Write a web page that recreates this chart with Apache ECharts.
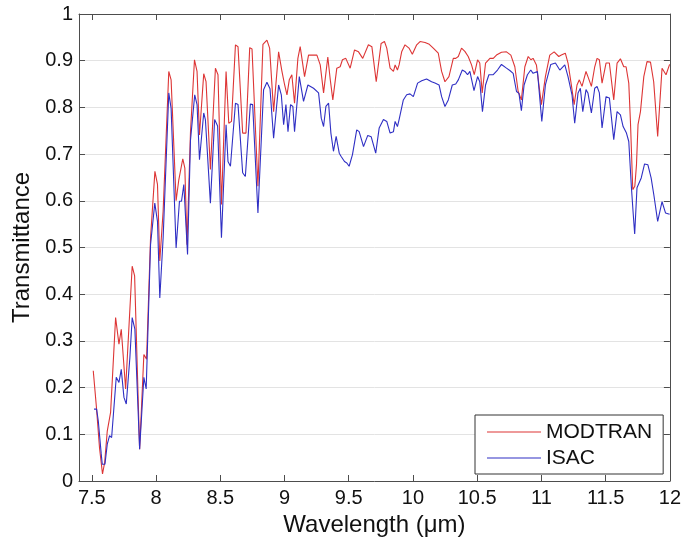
<!DOCTYPE html>
<html>
<head>
<meta charset="utf-8">
<script src="https://cdn.jsdelivr.net/npm/echarts@6/dist/echarts.min.js"></script>
<style>html,body{margin:0;padding:0;background:#fff;}#c{width:684px;height:543px;}</style>
</head>
<body>
<div id="c"></div>
<script>
const xTicks = [7.5, 8, 8.5, 9, 9.5, 10, 10.5, 11, 11.5, 12];
const seriesNames = ['MODTRAN', 'ISAC'];

const modtranX = [7.511,7.535,7.56,7.583,7.6,7.62,7.646,7.685,7.711,7.729,7.763,7.814,7.833,7.872,7.905,7.926,7.957,7.991,8.011,8.029,8.055,8.099,8.117,8.156,8.177,8.208,8.224,8.241,8.268,8.299,8.319,8.338,8.371,8.389,8.423,8.462,8.482,8.509,8.545,8.566,8.587,8.618,8.638,8.674,8.7,8.729,8.747,8.793,8.832,8.863,8.884,8.915,8.954,8.98,9.001,9.019,9.037,9.057,9.078,9.104,9.122,9.135,9.156,9.187,9.252,9.278,9.304,9.337,9.355,9.376,9.407,9.433,9.451,9.477,9.511,9.545,9.576,9.609,9.653,9.68,9.714,9.752,9.778,9.796,9.822,9.848,9.861,9.879,9.892,9.912,9.938,9.969,9.995,10.029,10.055,10.094,10.127,10.158,10.197,10.223,10.249,10.28,10.314,10.333,10.353,10.378,10.404,10.43,10.456,10.477,10.503,10.52,10.539,10.565,10.599,10.625,10.65,10.689,10.728,10.762,10.793,10.819,10.844,10.871,10.897,10.918,10.935,10.961,11.0,11.031,11.065,11.099,11.135,11.155,11.186,11.207,11.232,11.255,11.277,11.295,11.316,11.347,11.362,11.389,11.415,11.433,11.451,11.472,11.503,11.529,11.563,11.589,11.615,11.641,11.659,11.68,11.693,11.711,11.727,11.74,11.752,11.771,11.797,11.822,11.849,11.874,11.905,11.939,11.97,11.998];
const modtranY = [0.236,0.16,0.07,0.015,0.04,0.107,0.147,0.35,0.293,0.325,0.197,0.46,0.439,0.068,0.271,0.261,0.521,0.663,0.635,0.471,0.578,0.877,0.859,0.6,0.645,0.69,0.67,0.506,0.748,0.902,0.877,0.741,0.872,0.855,0.667,0.884,0.87,0.592,0.877,0.766,0.77,0.934,0.93,0.745,0.745,0.928,0.925,0.631,0.935,0.944,0.927,0.791,0.919,0.877,0.848,0.827,0.859,0.87,0.809,0.905,0.93,0.928,0.866,0.912,0.912,0.891,0.831,0.908,0.862,0.816,0.884,0.887,0.902,0.905,0.884,0.923,0.919,0.905,0.934,0.93,0.855,0.937,0.941,0.927,0.884,0.877,0.891,0.88,0.891,0.919,0.934,0.927,0.914,0.934,0.941,0.939,0.935,0.927,0.916,0.877,0.855,0.866,0.905,0.905,0.909,0.927,0.92,0.909,0.891,0.87,0.902,0.895,0.831,0.895,0.905,0.905,0.912,0.918,0.919,0.912,0.887,0.834,0.816,0.887,0.909,0.902,0.905,0.891,0.806,0.866,0.912,0.919,0.909,0.912,0.916,0.895,0.85,0.806,0.848,0.859,0.845,0.877,0.866,0.845,0.887,0.905,0.902,0.852,0.895,0.895,0.816,0.895,0.904,0.887,0.887,0.852,0.77,0.624,0.631,0.677,0.763,0.791,0.866,0.898,0.897,0.855,0.738,0.884,0.87,0.892];

const isacX = [7.517,7.537,7.55,7.573,7.581,7.602,7.62,7.638,7.654,7.69,7.711,7.729,7.75,7.768,7.796,7.814,7.835,7.872,7.905,7.923,7.957,7.99,8.011,8.029,8.055,8.099,8.117,8.156,8.182,8.198,8.216,8.226,8.245,8.268,8.301,8.319,8.338,8.371,8.384,8.423,8.456,8.479,8.509,8.545,8.56,8.579,8.618,8.638,8.674,8.695,8.734,8.752,8.793,8.837,8.863,8.887,8.915,8.954,8.975,8.993,9.011,9.027,9.047,9.065,9.078,9.115,9.13,9.148,9.182,9.226,9.265,9.286,9.304,9.322,9.343,9.361,9.381,9.402,9.426,9.441,9.467,9.485,9.503,9.529,9.562,9.581,9.615,9.648,9.675,9.71,9.737,9.77,9.796,9.822,9.848,9.861,9.879,9.892,9.925,9.951,9.977,10.003,10.036,10.068,10.106,10.145,10.171,10.203,10.223,10.249,10.275,10.306,10.333,10.353,10.384,10.404,10.425,10.443,10.475,10.503,10.52,10.541,10.565,10.591,10.625,10.658,10.689,10.728,10.754,10.78,10.806,10.825,10.844,10.865,10.891,10.917,10.935,10.969,11.003,11.031,11.073,11.109,11.143,11.182,11.207,11.238,11.259,11.285,11.303,11.322,11.347,11.362,11.389,11.415,11.433,11.451,11.472,11.503,11.529,11.563,11.589,11.615,11.636,11.662,11.68,11.7,11.713,11.726,11.744,11.757,11.777,11.803,11.829,11.854,11.875,11.905,11.939,11.966,11.998];
const isacY = [0.154,0.154,0.129,0.058,0.036,0.036,0.079,0.097,0.093,0.222,0.211,0.239,0.179,0.165,0.264,0.35,0.325,0.068,0.222,0.197,0.506,0.595,0.556,0.392,0.521,0.831,0.798,0.499,0.599,0.599,0.635,0.635,0.485,0.73,0.827,0.806,0.688,0.788,0.774,0.595,0.774,0.76,0.521,0.763,0.684,0.674,0.809,0.806,0.66,0.652,0.807,0.806,0.574,0.838,0.854,0.84,0.734,0.848,0.827,0.763,0.806,0.748,0.806,0.802,0.748,0.866,0.866,0.813,0.848,0.841,0.831,0.777,0.759,0.802,0.809,0.745,0.706,0.738,0.702,0.695,0.684,0.681,0.674,0.699,0.752,0.748,0.716,0.74,0.737,0.702,0.756,0.774,0.77,0.745,0.748,0.77,0.759,0.774,0.816,0.827,0.829,0.823,0.852,0.857,0.861,0.855,0.852,0.848,0.823,0.802,0.816,0.848,0.85,0.859,0.88,0.877,0.87,0.877,0.836,0.866,0.855,0.791,0.848,0.87,0.87,0.88,0.892,0.884,0.879,0.873,0.834,0.83,0.793,0.848,0.87,0.88,0.873,0.877,0.77,0.848,0.892,0.895,0.88,0.891,0.866,0.827,0.766,0.831,0.841,0.791,0.838,0.831,0.788,0.841,0.845,0.831,0.756,0.823,0.82,0.731,0.791,0.784,0.759,0.745,0.727,0.631,0.578,0.529,0.628,0.624,0.649,0.679,0.677,0.649,0.613,0.556,0.598,0.574,0.571];

function zip(xs, ys) { return xs.map((x, i) => [x, ys[i]]); }

const chart = echarts.init(document.getElementById('c'), null, {renderer: 'canvas'});
const FONT = 'Liberation Sans, Arial, sans-serif';
const AX = '#4d4d4d';
const RED = '#dd3535';
const BLUE = '#2f2fc4';
const baseX = {
  type: 'value', min: 7.4, max: 12,
  axisLine: {show: true, onZero: false, lineStyle: {color: AX, width: 1}},
  splitLine: {show: false}
};
const baseY = {
  type: 'value', min: 0, max: 1, interval: 0.1,
  axisLine: {show: true, onZero: false, lineStyle: {color: AX, width: 1}}
};
chart.setOption({
  animation: false,
  backgroundColor: '#fff',
  textStyle: {fontFamily: FONT},
  grid: {left: 79, right: 12, top: 14, bottom: 62, containLabel: false},
  legend: {
    data: [
      {name: seriesNames[0], icon: 'rect', itemStyle: {color: RED}},
      {name: seriesNames[1], icon: 'rect', itemStyle: {color: BLUE}}
    ],
    orient: 'vertical',
    left: 475, top: 415,
    itemWidth: 54, itemHeight: 1.2, itemGap: 4,
    padding: [6, 11, 5, 12],
    backgroundColor: '#fff', borderColor: '#333', borderWidth: 1,
    textStyle: {fontSize: 21, color: '#111', fontFamily: FONT, lineHeight: 22}
  },
  xAxis: [
    Object.assign({}, baseX, {
      position: 'bottom',
      name: 'Wavelength (\u03bcm)', nameLocation: 'middle', nameGap: 30,
      nameTextStyle: {fontSize: 24, color: '#111', fontFamily: FONT},
      axisTick: {show: true, inside: true, length: 6, lineStyle: {color: AX}, customValues: xTicks},
      axisLabel: {show: true, margin: 7, fontSize: 20, color: '#111', fontFamily: FONT, customValues: xTicks}
    }),
    Object.assign({}, baseX, {
      position: 'top',
      axisTick: {show: true, inside: true, length: 6, lineStyle: {color: AX}, customValues: xTicks},
      axisLabel: {show: false}
    })
  ],
  yAxis: [
    Object.assign({}, baseY, {
      position: 'left',
      name: 'Transmittance', nameLocation: 'middle', nameGap: 44,
      nameTextStyle: {fontSize: 24, color: '#111', fontFamily: FONT},
      axisTick: {show: true, inside: true, length: 6, lineStyle: {color: AX}},
      axisLabel: {show: true, margin: 6, fontSize: 20, color: '#111', fontFamily: FONT},
      splitLine: {show: true, lineStyle: {color: '#e3e3e3', width: 1}}
    }),
    Object.assign({}, baseY, {
      position: 'right',
      axisTick: {show: true, inside: true, length: 6, lineStyle: {color: AX}},
      axisLabel: {show: false},
      splitLine: {show: false}
    })
  ],
  series: [
    {
      name: seriesNames[0], type: 'line', xAxisIndex: 0, yAxisIndex: 0,
      data: zip(modtranX, modtranY), symbol: 'none', showSymbol: false,
      lineStyle: {color: RED, width: 1.1}, itemStyle: {color: RED}, z: 3
    },
    {
      name: seriesNames[1], type: 'line', xAxisIndex: 0, yAxisIndex: 0,
      data: zip(isacX, isacY), symbol: 'none', showSymbol: false,
      lineStyle: {color: BLUE, width: 1.1}, itemStyle: {color: BLUE}, z: 4
    }
  ]
});
</script>
</body>
</html>
